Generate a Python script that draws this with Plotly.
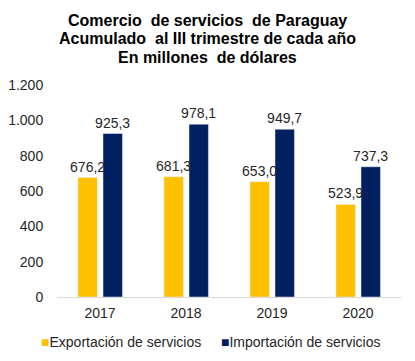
import plotly.graph_objects as go

years = ["2017", "2018", "2019", "2020"]
exportacion = [676.2, 681.3, 653.0, 523.9]
importacion = [925.3, 978.1, 949.7, 737.3]
tick_vals = [0, 200, 400, 600, 800, 1000, 1200]
tick_text = ["0", "200", "400", "600", "800", "1.000", "1.200"]
series_names = ["Exportación de servicios", "Importación de servicios"]
colors = ["#FFC000", "#002060"]
title_lines = ["Comercio  de servicios  de Paraguay",
               "Acumulado  al III trimestre de cada año",
               "En millones  de dólares"]

def fmt(v):
    return f"{v:.1f}".replace(".", ",")

FONT = "Liberation Sans, Arial, sans-serif"
W, H = 415, 361
PLOT_LEFT, PLOT_RIGHT = 57, 401
PLOT_TOP, PLOT_BOTTOM = 85, 297
PH = PLOT_BOTTOM - PLOT_TOP
PW = PLOT_RIGHT - PLOT_LEFT

def py(pix):
    return (PLOT_BOTTOM - pix) / PH

def px(pix):
    return (pix - PLOT_LEFT) / PW

BAR_W = 0.226
offsets = [-0.256, 0.035]

fig = go.Figure()
# import drawn first so that export labels stay on top of the navy bars
for i in [1, 0]:
    vals = [exportacion, importacion][i]
    fig.add_trace(go.Bar(
        x=years, y=vals, name=series_names[i],
        marker_color=colors[i], width=BAR_W, offset=offsets[i],
        text=[fmt(v) for v in vals], textposition="outside",
        textfont=dict(size=14, color="#262626", family=FONT),
        cliponaxis=False, constraintext="none",
    ))

for line, ly in zip(title_lines, [20, 38.5, 57]):
    fig.add_annotation(
        text=f"<b>{line}</b>",
        xref="paper", yref="paper", x=px(207), y=py(ly),
        xanchor="center", yanchor="middle", showarrow=False,
        font=dict(size=16, color="black", family=FONT),
    )

# legend drawn as annotations
for name, col, lx in zip(series_names, colors, [39, 219]):
    fig.add_annotation(
        text=f"<span style='color:{col}'>■</span>{name}",
        xref="paper", yref="paper", x=px(lx), y=py(342),
        xanchor="left", yanchor="middle", showarrow=False,
        font=dict(size=14, color="#262626", family=FONT),
    )

fig.update_layout(
    width=W, height=H,
    margin=dict(l=PLOT_LEFT, r=W - PLOT_RIGHT, t=PLOT_TOP, b=H - PLOT_BOTTOM, autoexpand=False),
    paper_bgcolor="white", plot_bgcolor="white",
    barmode="overlay",
    font=dict(family=FONT, size=14, color="#262626"),
    showlegend=False,
)
fig.update_xaxes(showline=True, linecolor="#D9D9D9", linewidth=1, ticks="outside",
                 ticklen=3, tickcolor="white", range=[-0.5, 3.5],
                 tickfont=dict(size=14), showgrid=False)
fig.update_yaxes(range=[0, 1200], tickvals=tick_vals, ticktext=tick_text,
                 showgrid=False, zeroline=False, showline=False,
                 tickfont=dict(size=14), ticks="outside", ticklen=10, tickcolor="white")

fig.write_html("out.html", config={"displayModeBar": False},
               post_script="document.body.style.margin='0';")
